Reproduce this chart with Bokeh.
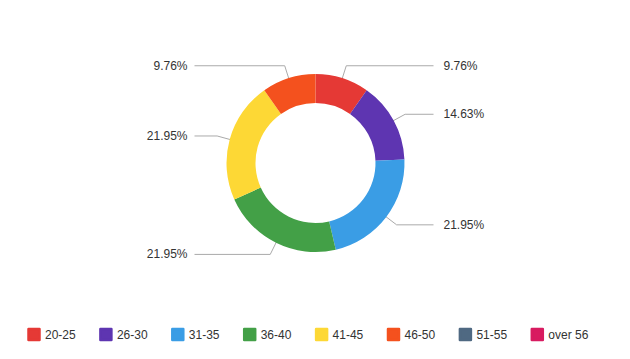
import math
from bokeh.plotting import figure
from bokeh.models import Range1d
from bokeh.core.properties import value
from bokeh.embed import file_html
from bokeh.resources import INLINE

categories = ["20-25", "26-30", "31-35", "36-40", "41-45", "46-50", "51-55", "over 56"]
counts = [4, 6, 9, 9, 9, 4, 0, 0]
colors = ["#e53935", "#5e35b1", "#3a9de5", "#43a047", "#fdd835", "#f4511e", "#4f6982", "#d81b60"]

W, H = 614, 343
p = figure(width=W, height=H, output_backend="svg", toolbar_location=None,
           x_range=Range1d(0, W), y_range=Range1d(359 - H, 359),
           min_border=0)
p.axis.visible = False
p.grid.visible = False
p.outline_line_color = None
p.background_fill_color = "white"

cx, cy = 315, 359 - 162.5
r_in, r_out = 60, 89
total = sum(counts)

starts, ends, cols = [], [], []
tx, ty, tt, talign = [], [], [], []
cum = 0
for c, col in zip(counts, colors):
    frac = c / total
    if c > 0:
        a0 = math.pi / 2 - cum * 2 * math.pi
        a1 = math.pi / 2 - (cum + frac) * 2 * math.pi
        starts.append(a0); ends.append(a1); cols.append(col)
        mid = (cum + frac / 2) * 2 * math.pi  # clockwise from top
        sx, sy = cx + 76 * math.sin(mid), cy + 76 * math.cos(mid)
        ex, ey = cx + 102 * math.sin(mid), cy + 102 * math.cos(mid)
        right = math.sin(mid) >= 0
        hx = cx + 118 if right else cx - 121
        p.line([sx, ex, hx], [sy, ey, ey], line_color="#aaaaaa", line_width=1)
        tx.append(hx + 10 if right else hx - 7)
        ty.append(ey)
        tt.append(f"{frac * 100:.2f}%")
        talign.append("left" if right else "right")
    cum += frac

p.annular_wedge(x=cx, y=cy, inner_radius=r_in, outer_radius=r_out,
                start_angle=starts, end_angle=ends, direction="clock",
                fill_color=cols, line_color=None)

p.text(x=tx, y=ty, text=tt, text_align=talign, text_baseline="middle",
       text_font=value("Liberation Sans"), text_font_size="12px", text_color="#333333")

# legend
n = len(categories)
lgx = [33.5 + 71.9 * i for i in range(n)]
lgy = [359 - 334] * n
p.scatter(x=lgx, y=lgy, marker="square", size=11, fill_color=colors,
          line_color=colors, line_width=2.5, line_join="round")
p.text(x=[x + 11 for x in lgx], y=lgy, text=categories, text_align="left",
       text_baseline="middle", text_font=value("Liberation Sans"),
       text_font_size="12px", text_color="#333333")

open("out.html", "w").write(file_html(p, INLINE))
